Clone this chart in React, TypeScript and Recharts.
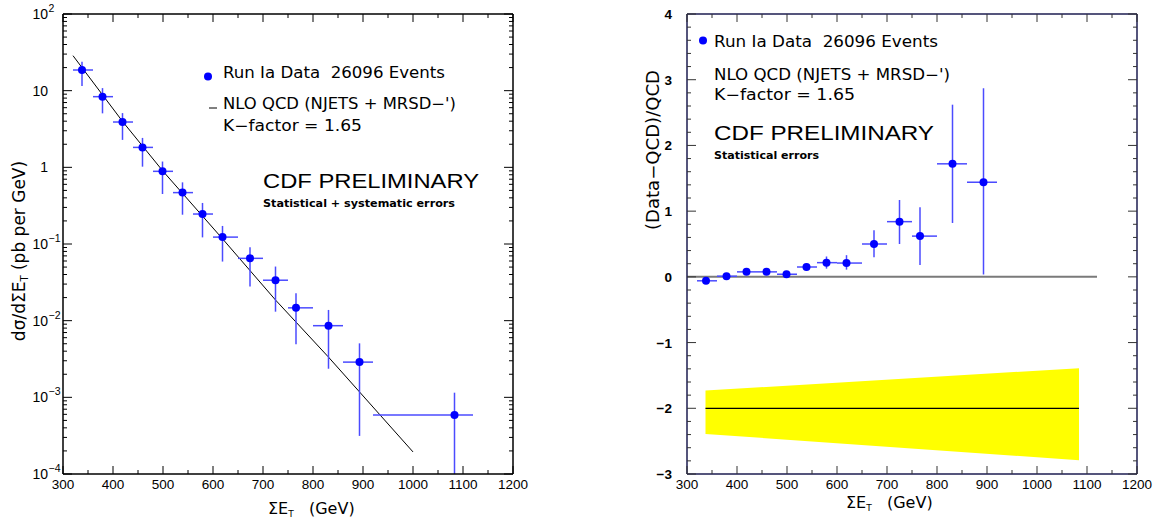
import { Area, ComposedChart, ErrorBar, Line, Scatter, XAxis, YAxis } from "recharts"

const FONT = "DejaVu Sans, Liberation Sans, sans-serif"
const TICK_FONT = "Liberation Sans, Arial, sans-serif"

// ΣE_T bins (GeV)
const etCentre = [338, 379, 419, 459, 499, 539, 579, 619, 674, 725, 766, 831, 893, 1083]
const etLow = [320, 360, 400, 440, 480, 520, 560, 600, 650, 700, 750, 800, 860, 920]
const etHigh = [360, 400, 440, 480, 520, 560, 600, 650, 700, 750, 800, 860, 920, 1120]

// dσ/dΣE_T (pb per GeV), stat + syst
const xsec = [18.6, 8.35, 3.9, 1.82, 0.887, 0.468, 0.246, 0.123, 0.065, 0.0337, 0.0147, 0.0086, 0.00288, 0.00059]
const xsecUp = [23.9, 10.8, 5.1, 2.42, 1.19, 0.637, 0.343, 0.172, 0.0905, 0.0508, 0.0228, 0.0138, 0.00506, 0.00115]
const xsecDown = [11.5, 5.06, 2.28, 1.02, 0.449, 0.241, 0.122, 0.059, 0.0278, 0.0131, 0.00491, 0.00236, 0.000314, 0.0001]

// NLO QCD (NJETS + MRSD-'), K = 1.65
const qcdEt = [320, 420, 500, 620, 725, 830, 1000]
const qcdXsec = [28.6, 3.9, 0.89, 0.115, 0.0186, 0.0034, 0.000194]

// (Data-QCD)/QCD, statistical errors only (first 13 bins)
const ratio = [-0.06, 0.01, 0.076, 0.076, 0.04, 0.15, 0.216, 0.21, 0.5, 0.84, 0.62, 1.72, 1.44]
const ratioUp = [-0.03, 0.04, 0.105, 0.105, 0.07, 0.2, 0.31, 0.33, 0.71, 1.17, 1.06, 2.62, 2.87]
const ratioDown = [-0.09, -0.02, 0.045, 0.045, 0.01, 0.1, 0.125, 0.11, 0.3, 0.5, 0.18, 0.82, 0.036]

// systematic band drawn around -2
const bandEt = [337, 1084]
const bandUp = [-1.73, -1.39]
const bandDown = [-2.39, -2.79]
const bandMid = [-2, -2]
const zeroEt = [300, 1120]

const etTicks = Array.from({ length: 19 }, (_, i) => 300 + 50 * i)
const logTicks: number[] = []
for (let e = -4; e <= 1; e++) for (let m = 1; m <= 9; m++) logTicks.push(Number((m * Math.pow(10, e)).toPrecision(2)))
logTicks.push(100)
const ratioTicks = Array.from({ length: 36 }, (_, i) => Math.round((-3 + 0.2 * i) * 10) / 10)

const spectrum = etCentre.map((x, i) => ({
  x,
  y: xsec[i],
  ex: [x - etLow[i], etHigh[i] - x],
  ey: [xsec[i] - xsecDown[i], xsecUp[i] - xsec[i]],
}))
const qcd = qcdEt.map((x, i) => ({ x, y: qcdXsec[i] }))
const diff = ratio.map((y, i) => ({
  x: etCentre[i],
  y,
  ex: [etCentre[i] - etLow[i], etHigh[i] - etCentre[i]],
  ey: [y - ratioDown[i], ratioUp[i] - y],
}))
const band = bandEt.map((x, i) => ({ x, band: [bandDown[i], bandUp[i]], y: bandMid[i] }))
const zero = zeroEt.map((x) => ({ x, y: 0 }))

const BLUE = "#0000ff"
const ERR = "#4b4bff"

const dot = (p: any) => <circle cx={p.cx} cy={p.cy} r={4} fill={BLUE} />

const xTick = (side: "bottom" | "top", color: string) => (p: any) => {
  const v = p.payload.value
  const major = v % 100 === 0
  const d = side === "bottom" ? -1 : 1
  return (
    <g>
      <line x1={p.x} x2={p.x} y1={p.y} y2={p.y + d * (major ? 8 : 4)} stroke={color} />
      {side === "bottom" && major && (
        <text x={p.x} y={p.y + 15} textAnchor="middle" fontSize={13.5} fontFamily={TICK_FONT} fill="#000">
          {v}
        </text>
      )}
    </g>
  )
}

const logTick = (side: "left" | "right") => (p: any) => {
  const v = p.payload.value
  const lg = Math.log10(v)
  const e = Math.round(lg)
  const major = Math.abs(lg - e) < 1e-6
  const d = side === "left" ? 1 : -1
  return (
    <g>
      <line x1={p.x} x2={p.x + d * (major ? 9 : 4)} y1={p.y} y2={p.y} stroke="#000" />
      {side === "left" && major && (
        <text x={p.x - 15} y={p.y + 5} textAnchor="end" fontSize={14} fontFamily={TICK_FONT} fill="#000">
          {e === 0 ? "1" : "10"}
        </text>
      )}
      {side === "left" && major && e !== 0 && e !== 1 && (
        <text x={p.x - 14.5} y={p.y - 2} fontSize={10.5} fontFamily={TICK_FONT} fill="#000">
          {e < 0 ? "\u2212" + -e : e}
        </text>
      )}
    </g>
  )
}

const linTick = (side: "left" | "right") => (p: any) => {
  const v = p.payload.value
  const major = Math.abs(v - Math.round(v)) < 1e-6
  const d = side === "left" ? 1 : -1
  return (
    <g>
      <line x1={p.x} x2={p.x + d * (major ? 9 : 4)} y1={p.y} y2={p.y} stroke="#333" />
      {side === "left" && major && (
        <text x={p.x - 15} y={p.y + 5} textAnchor="end" fontSize={13.5} fontWeight="bold" fontFamily={TICK_FONT} fill="#000">
          {v < 0 ? "\u2212" + -v : v}
        </text>
      )}
    </g>
  )
}

function SpectrumPanel() {
  const axis = { stroke: "#000", strokeWidth: 1.5 }
  return (
    <ComposedChart width={580} height={523} margin={{ top: 13, left: 62, right: 66, bottom: 48 }}>
      <XAxis dataKey="x" type="number" domain={[300, 1200]} allowDataOverflow ticks={etTicks} interval={0}
        height={1} tickSize={0} tickMargin={0} tickLine={false} axisLine={axis} tick={xTick("bottom", "#000")} />
      <XAxis xAxisId="top" orientation="top" dataKey="x" type="number" domain={[300, 1200]} allowDataOverflow
        ticks={etTicks} interval={0} height={1} tickSize={0} tickMargin={0} tickLine={false} axisLine={axis}
        tick={xTick("top", "#000")} />
      <YAxis scale="log" type="number" domain={[0.0001, 100]} allowDataOverflow ticks={logTicks} interval={0}
        width={1} tickSize={0} tickMargin={0} tickLine={false} axisLine={axis} tick={logTick("left")} />
      <YAxis yAxisId="right" orientation="right" scale="log" type="number" domain={[0.0001, 100]} allowDataOverflow
        ticks={logTicks} interval={0} width={1} tickSize={0} tickMargin={0} tickLine={false} axisLine={axis}
        tick={logTick("right")} />
      <Line data={qcd} dataKey="y" stroke="#000" strokeWidth={1} dot={false} isAnimationActive={false} />
      <Scatter data={spectrum} dataKey="y" shape={dot} isAnimationActive={false}>
        <ErrorBar dataKey="ex" direction="x" width={0} stroke={ERR} strokeWidth={1.5} />
        <ErrorBar dataKey="ey" direction="y" width={0} stroke={ERR} strokeWidth={1.5} />
      </Scatter>
    </ComposedChart>
  )
}

function RatioPanel() {
  const axis = { stroke: "#1c1c50", strokeWidth: 1.5 }
  return (
    <ComposedChart width={579} height={523} margin={{ top: 13, left: 106, right: 21, bottom: 48 }}>
      <XAxis dataKey="x" type="number" domain={[300, 1200]} allowDataOverflow ticks={etTicks} interval={0}
        height={1} tickSize={0} tickMargin={0} tickLine={false} axisLine={axis} tick={xTick("bottom", "#333")} />
      <XAxis xAxisId="top" orientation="top" dataKey="x" type="number" domain={[300, 1200]} allowDataOverflow
        ticks={etTicks} interval={0} height={1} tickSize={0} tickMargin={0} tickLine={false} axisLine={axis}
        tick={xTick("top", "#333")} />
      <YAxis type="number" domain={[-3, 4]} allowDataOverflow ticks={ratioTicks} interval={0} width={1}
        tickSize={0} tickMargin={0} tickLine={false} axisLine={axis} tick={linTick("left")} />
      <YAxis yAxisId="right" orientation="right" type="number" domain={[-3, 4]} allowDataOverflow ticks={ratioTicks}
        interval={0} width={1} tickSize={0} tickMargin={0} tickLine={false} axisLine={axis} tick={linTick("right")} />
      <Area data={band} dataKey="band" type="linear" fill="#ffff00" fillOpacity={1} stroke="none" isAnimationActive={false} />
      <Line data={band} dataKey="y" stroke="#000" strokeWidth={1.3} dot={false} isAnimationActive={false} />
      <Line data={zero} dataKey="y" stroke="#7a7a7a" strokeWidth={2} dot={false} isAnimationActive={false} />
      <Scatter data={diff} dataKey="y" shape={dot} isAnimationActive={false}>
        <ErrorBar dataKey="ex" direction="x" width={0} stroke={ERR} strokeWidth={1.5} />
        <ErrorBar dataKey="ey" direction="y" width={0} stroke={ERR} strokeWidth={1.5} />
      </Scatter>
    </ComposedChart>
  )
}

const SP = "\u00a0"

export default function App() {
  const t = { fontFamily: FONT, fill: "#000" }
  const big = { fontFamily: "Liberation Sans, Arial, sans-serif", fill: "#000" }
  return (
    <div style={{ position: "absolute", left: 0, top: 0, width: 1159, height: 523, background: "#fff" }}>
      <div style={{ position: "absolute", left: 0, top: 0 }}>
        <SpectrumPanel />
      </div>
      <div style={{ position: "absolute", left: 580, top: 0 }}>
        <RatioPanel />
      </div>
      <svg width={1159} height={523} style={{ position: "absolute", left: 0, top: 0, pointerEvents: "none" }}>
        {/* left panel annotations */}
        <circle cx={208} cy={76.5} r={4} fill={BLUE} />
        <text x={223} y={77.5} fontSize={15} textLength={222} lengthAdjust="spacingAndGlyphs" {...t}>
          {`Run Ia Data${SP}${SP}26096 Events`}
        </text>
        <line x1={209} x2={217} y1={108} y2={108} stroke="#000" />
        <text x={223} y={108.5} fontSize={15} textLength={233} lengthAdjust="spacingAndGlyphs" {...t}>
          NLO QCD (NJETS + MRSD−')
        </text>
        <text x={223} y={131} fontSize={15} textLength={139} lengthAdjust="spacingAndGlyphs" {...t}>
          K−factor = 1.65
        </text>
        <text x={263} y={188} fontSize={21} textLength={216} lengthAdjust="spacingAndGlyphs" {...big}>
          CDF PRELIMINARY
        </text>
        <text x={263} y={207} fontSize={11} fontWeight="bold" textLength={192} lengthAdjust="spacingAndGlyphs" {...t}>
          Statistical + systematic errors
        </text>
        <text transform="translate(25,251) rotate(-90)" textAnchor="middle" fontSize={17} {...t}>
          dσ/dΣE<tspan fontSize={10} dy={3}>T</tspan>
          <tspan dy={-3}> (pb per GeV)</tspan>
        </text>
        <text x={268} y={514} fontSize={16} {...t}>
          ΣE<tspan fontSize={9} dy={3}>T</tspan>
          <tspan dy={-3}>{`${SP}${SP}${SP}(GeV)`}</tspan>
        </text>

        {/* right panel annotations */}
        <circle cx={703} cy={40.5} r={4} fill={BLUE} />
        <text x={714} y={46.5} fontSize={15} textLength={224} lengthAdjust="spacingAndGlyphs" {...t}>
          {`Run Ia Data${SP}${SP}26096 Events`}
        </text>
        <text x={714} y={80} fontSize={15} textLength={236} lengthAdjust="spacingAndGlyphs" {...t}>
          NLO QCD (NJETS + MRSD−')
        </text>
        <text x={714} y={99.5} fontSize={15} textLength={141} lengthAdjust="spacingAndGlyphs" {...t}>
          K−factor = 1.65
        </text>
        <text x={714} y={139.5} fontSize={21} textLength={220} lengthAdjust="spacingAndGlyphs" {...big}>
          CDF PRELIMINARY
        </text>
        <text x={714} y={158.5} fontSize={11} fontWeight="bold" textLength={105} lengthAdjust="spacingAndGlyphs" {...t}>
          Statistical errors
        </text>
        <text transform="translate(659,150) rotate(-90)" textAnchor="middle" fontSize={17} textLength={160}
          lengthAdjust="spacingAndGlyphs" {...t}>
          (Data−QCD)/QCD
        </text>
        <text x={846} y={508} fontSize={16} {...t}>
          ΣE<tspan fontSize={9} dy={3}>T</tspan>
          <tspan dy={-3}>{`${SP}${SP}${SP}(GeV)`}</tspan>
        </text>
      </svg>
    </div>
  )
}
